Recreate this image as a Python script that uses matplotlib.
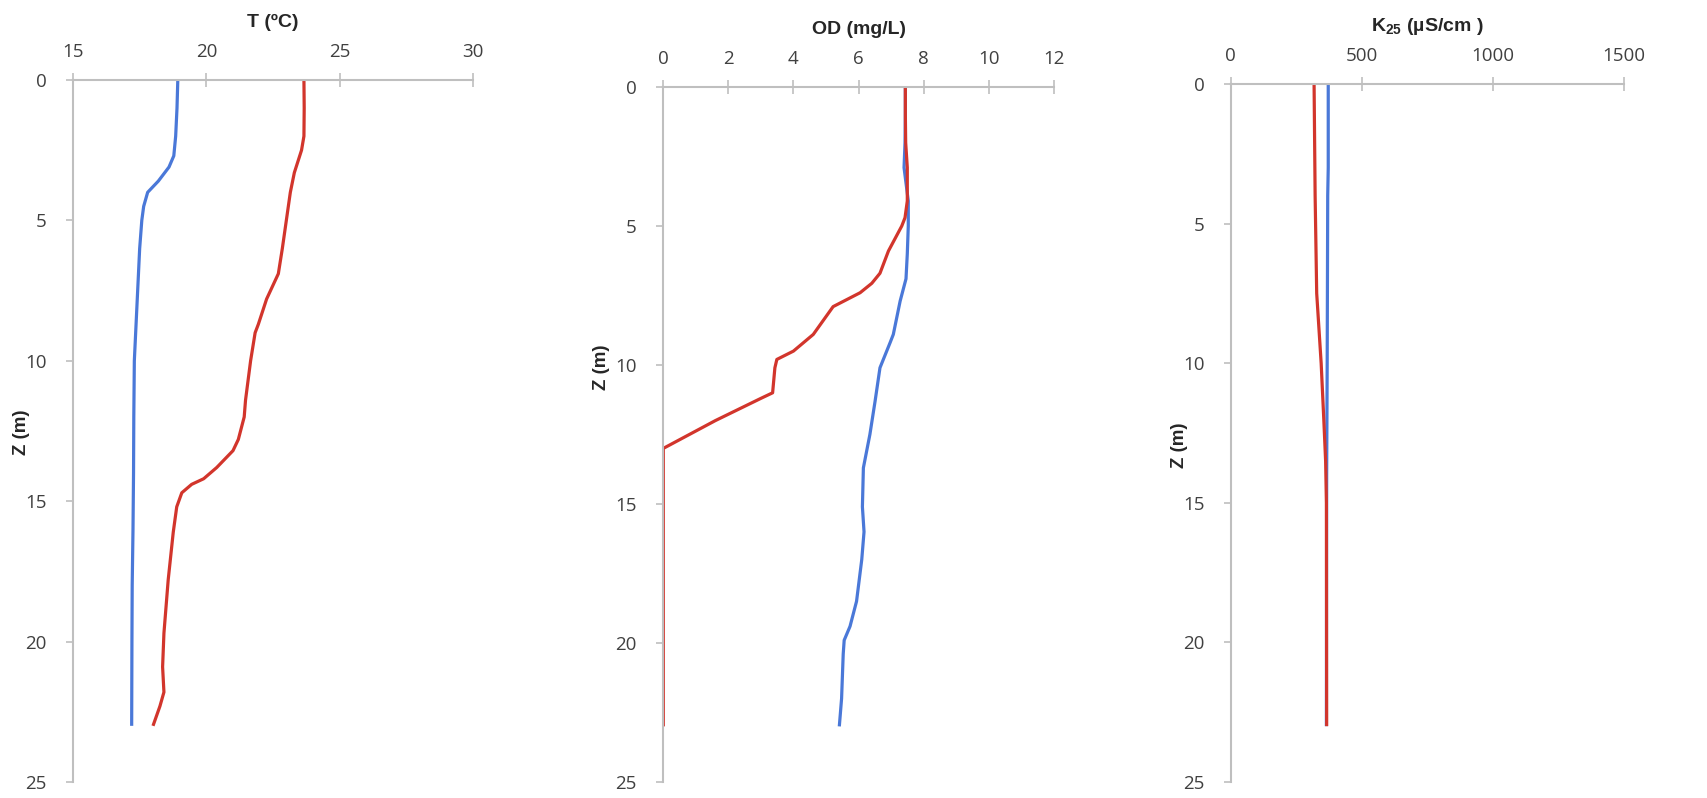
import matplotlib
matplotlib.use("Agg")
import matplotlib.pyplot as plt

# Temperature profiles (depth in m, T in degC)
t_blue_depth = [0, 1, 2, 2.7, 3.1, 3.6, 4.0, 4.5, 5, 6, 7, 8, 9, 10, 12, 14, 16, 18, 20, 23]
t_blue = [18.93, 18.9, 18.85, 18.78, 18.6, 18.2, 17.8, 17.65, 17.58, 17.5, 17.45, 17.4,
          17.35, 17.3, 17.28, 17.27, 17.25, 17.22, 17.21, 17.2]
t_red_depth = [0, 1, 2, 2.5, 3.3, 4, 5, 6, 6.9, 7.8, 8.7, 9.0, 10, 11.4, 12, 12.8, 13.2,
               13.8, 14.2, 14.4, 14.7, 15.2, 16.1, 17.8, 19.7, 20.9, 21.8, 22.3, 23]
t_red = [23.66, 23.67, 23.66, 23.57, 23.3, 23.15, 23.0, 22.85, 22.7, 22.26, 21.95, 21.83,
         21.66, 21.47, 21.42, 21.2, 21.0, 20.39, 19.9, 19.45, 19.08, 18.89, 18.76, 18.57,
         18.41, 18.36, 18.41, 18.26, 18.0]

# Dissolved oxygen profiles (mg/L)
od_blue_depth = [0, 1, 2, 2.9, 4.1, 5, 6, 6.9, 7.7, 8.9, 9.2, 10.1, 11.3, 12.5, 13.7, 15.1,
                 16, 17, 18.5, 19.4, 19.9, 20.4, 22, 23]
od_blue = [7.44, 7.44, 7.43, 7.40, 7.53, 7.53, 7.5, 7.46, 7.28, 7.07, 6.97, 6.66, 6.51, 6.35,
           6.15, 6.12, 6.17, 6.1, 5.94, 5.74, 5.56, 5.53, 5.48, 5.41]
od_red_depth = [0, 1, 2, 2.9, 4.1, 4.7, 5, 5.9, 6.7, 7.06, 7.4, 7.9, 8.9, 9.5, 9.8, 10.1,
                11.0, 11.2, 11.6, 12.0, 12.5, 13.0, 15, 18, 20, 23]
od_red = [7.44, 7.44, 7.45, 7.5, 7.5, 7.43, 7.33, 6.92, 6.66, 6.41, 6.05, 5.22, 4.61, 4.0,
          3.49, 3.43, 3.36, 3.0, 2.3, 1.6, 0.8, 0, 0, 0, 0, 0]

# Specific conductance profiles (uS/cm)
k_blue_depth = [0, 3, 4, 10, 14, 23]
k_blue = [372, 372, 370, 368, 366, 365]
k_red_depth = [0, 4, 7.5, 10, 12, 13.5, 15, 23]
k_red = [318, 322, 328, 345, 355, 362, 365, 366]

panel_titles = ["T (ºC)", "OD (mg/L)", r"K$\mathbf{_{25}}$ (µS/cm )"]
x_ticks = [[15, 20, 25, 30], [0, 2, 4, 6, 8, 10, 12], [0, 500, 1000, 1500]]
y_ticks = [0, 5, 10, 15, 20, 25]

BLUE = "#4A78D8"
RED = "#D2352C"
AXIS_GRAY = "#BFBFBF"
TEXT_GRAY = "#404040"

plt.rcParams["mathtext.fontset"] = "custom"
plt.rcParams["mathtext.rm"] = "Liberation Sans"
plt.rcParams["mathtext.bf"] = "Liberation Sans:bold"

W, H = 1708, 798
fig = plt.figure(figsize=(W / 100, H / 100), dpi=100)

# axes boxes in pixels: left, right, top, bottom
boxes = [(73, 473, 80, 782), (663.3, 1053.7, 87, 782), (1230.7, 1624, 84, 782)]
ylabel_pos = [(22, 432), (602, 367), (1180, 445)]
series = [
    [(t_blue, t_blue_depth), (t_red, t_red_depth)],
    [(od_blue, od_blue_depth), (od_red, od_red_depth)],
    [(k_blue, k_blue_depth), (k_red, k_red_depth)],
]

for i, (l, r, t, b) in enumerate(boxes):
    ax = fig.add_axes([l / W, 1 - b / H, (r - l) / W, (b - t) / H])
    (bx, bd), (rx, rd) = series[i]
    ax.plot(bx, bd, color=BLUE, lw=2.3, solid_capstyle="butt", solid_joinstyle="round")
    ax.plot(rx, rd, color=RED, lw=2.3, solid_capstyle="butt", solid_joinstyle="round")

    ax.set_xlim(x_ticks[i][0], x_ticks[i][-1])
    ax.set_ylim(25, 0)
    ax.set_xticks(x_ticks[i])
    ax.set_yticks(y_ticks)
    ax.xaxis.tick_top()
    ax.xaxis.set_label_position("top")

    for s in ["right", "bottom"]:
        ax.spines[s].set_visible(False)
    for s in ["top", "left"]:
        ax.spines[s].set_color(AXIS_GRAY)
        ax.spines[s].set_linewidth(1.5)

    ax.tick_params(axis="x", direction="inout", length=10, width=1.2, color=AXIS_GRAY,
                   labelsize=13.5, labelcolor=TEXT_GRAY, pad=9)
    ax.tick_params(axis="y", direction="out", length=5, width=1.2, color=AXIS_GRAY,
                   labelsize=13.5, labelcolor=TEXT_GRAY, pad=14)
    for lab in ax.get_xticklabels() + ax.get_yticklabels():
        lab.set_fontfamily("Open Sans")

    ax.set_xlabel(panel_titles[i], fontsize=14, fontweight="bold", color="#262626",
                  family="Liberation Sans", labelpad=11)

    lx, ly = ylabel_pos[i]
    fig.text(lx / W, 1 - ly / H, "Z (m)", rotation=90, ha="center", va="center",
             fontsize=13.5, fontweight="bold", color="#262626", family="Liberation Sans")

fig.savefig("out.png", dpi=100, facecolor="white")
